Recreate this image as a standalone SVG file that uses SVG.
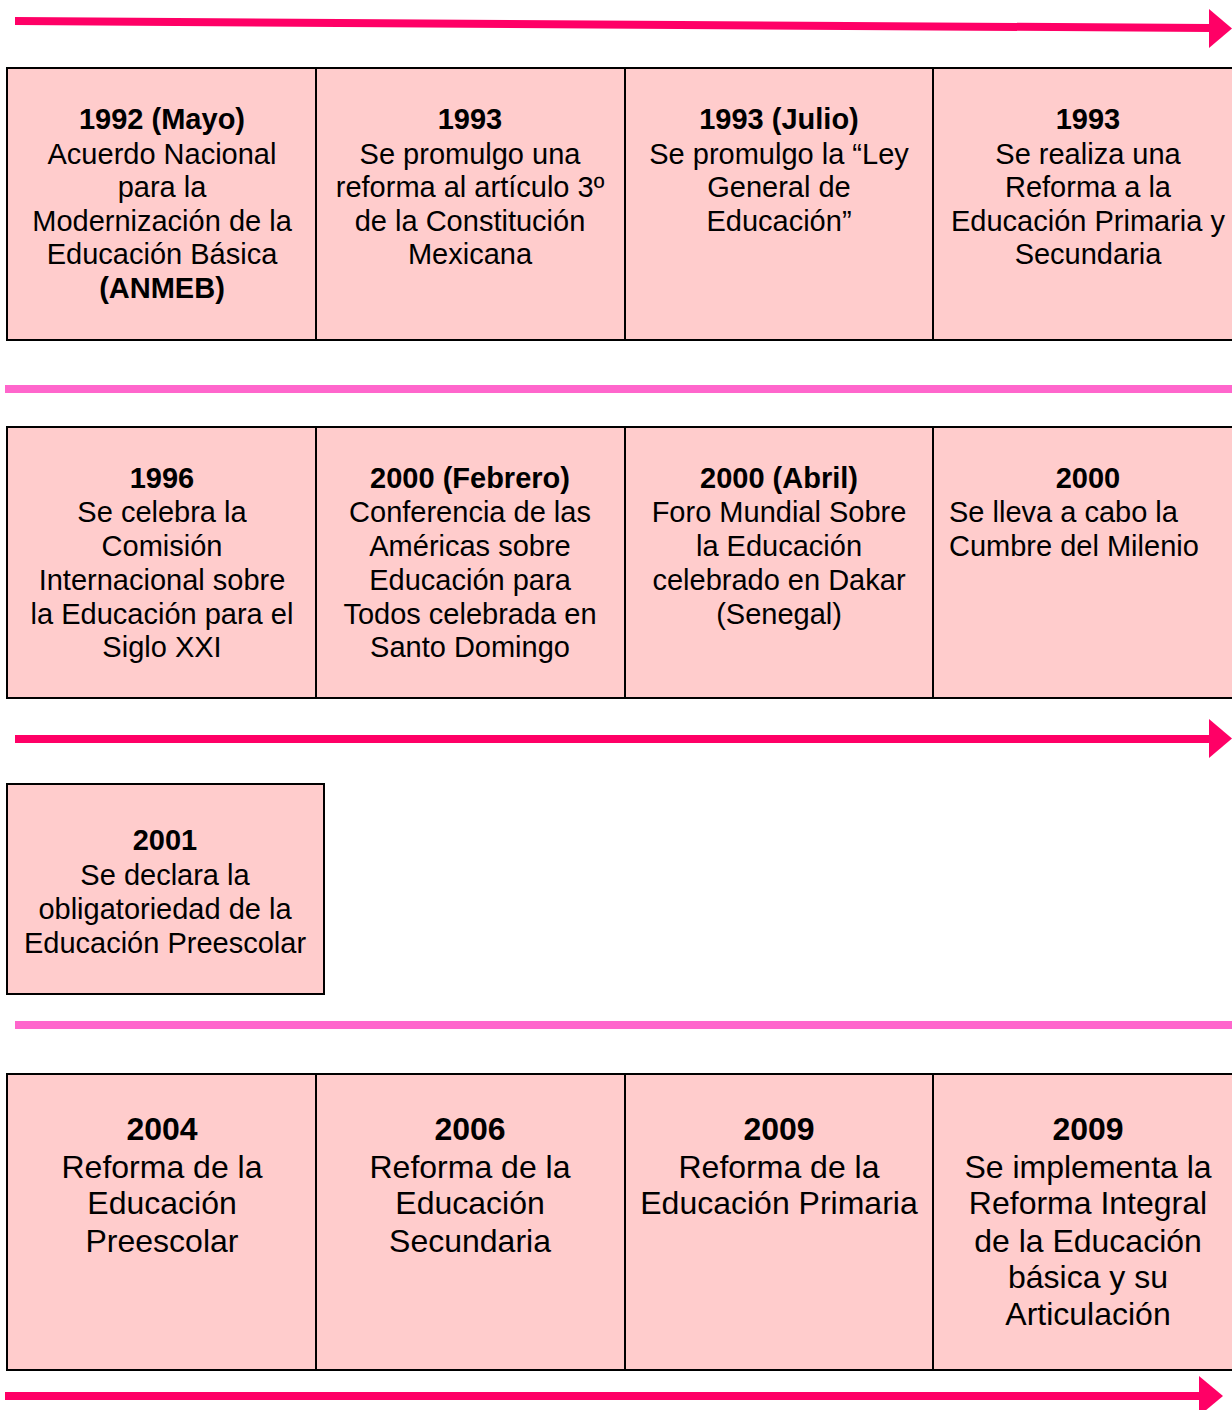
<svg xmlns="http://www.w3.org/2000/svg" width="1232" height="1410" viewBox="0 0 1232 1410">
<style>
  .box{fill:#FFCCCC;stroke:#000;stroke-width:2}
  .div{stroke:#000;stroke-width:2}
  .t{font-family:"Liberation Sans",Arial,sans-serif;font-size:29px;fill:#000;text-anchor:middle}
  .t4{font-family:"Liberation Sans",Arial,sans-serif;font-size:32px;fill:#000;text-anchor:middle}
  .b{font-weight:bold}
  .arr{stroke:#FF0066;stroke-width:8;fill:none}
  .head{fill:#FF0066}
  .sep{stroke:#FF66CC;stroke-width:8}
</style>
<rect width="1232" height="1410" fill="#fff"/>
<g id="connectors">
  <line class="arr" x1="15" y1="21" x2="1210" y2="28"/>
  <polygon class="head" points="1209,9 1232,28.5 1209,48"/>
  <line class="sep" x1="5" y1="389" x2="1232" y2="389"/>
  <line class="arr" x1="15" y1="739" x2="1210" y2="739"/>
  <polygon class="head" points="1209,719 1232,738.5 1209,758"/>
  <line class="sep" x1="15" y1="1025" x2="1232" y2="1025"/>
  <line class="arr" x1="5" y1="1396" x2="1200" y2="1396"/>
  <polygon class="head" points="1199,1376 1223,1396 1199,1416"/>
</g>
<g id="row1">
  <rect class="box" x="7" y="68" width="1240" height="272"/>
  <line class="div" x1="316" y1="68" x2="316" y2="340"/>
  <line class="div" x1="625" y1="68" x2="625" y2="340"/>
  <line class="div" x1="933" y1="68" x2="933" y2="340"/>
</g>
<g id="n1992">
  <text class="t" x="162"><tspan class="b" y="129" x="162">1992 (Mayo)</tspan><tspan x="162" y="164">Acuerdo Nacional</tspan><tspan x="162" y="197">para la</tspan><tspan x="162" y="231">Modernización de la</tspan><tspan x="162" y="264">Educación Básica</tspan><tspan class="b" x="162" y="298">(ANMEB)</tspan></text>
</g>
<g id="n1993a">
  <text class="t"><tspan class="b" x="470" y="129">1993</tspan><tspan x="470" y="164">Se promulgo una</tspan><tspan x="470" y="197">reforma al artículo 3º</tspan><tspan x="470" y="231">de la Constitución</tspan><tspan x="470" y="264">Mexicana</tspan></text>
</g>
<g id="n1993b">
  <text class="t"><tspan class="b" x="779" y="129">1993 (Julio)</tspan><tspan x="779" y="164">Se promulgo la “Ley</tspan><tspan x="779" y="197">General de</tspan><tspan x="779" y="231">Educación”</tspan></text>
</g>
<g id="n1993c">
  <text class="t"><tspan class="b" x="1088" y="129">1993</tspan><tspan x="1088" y="164">Se realiza una</tspan><tspan x="1088" y="197">Reforma a la</tspan><tspan x="1088" y="231">Educación Primaria y</tspan><tspan x="1088" y="264">Secundaria</tspan></text>
</g>
<g id="row2">
  <rect class="box" x="7" y="427" width="1240" height="271"/>
  <line class="div" x1="316" y1="427" x2="316" y2="698"/>
  <line class="div" x1="625" y1="427" x2="625" y2="698"/>
  <line class="div" x1="933" y1="427" x2="933" y2="698"/>
</g>
<g id="n1996">
  <text class="t"><tspan class="b" x="162" y="488">1996</tspan><tspan x="162" y="522">Se celebra la</tspan><tspan x="162" y="556">Comisión</tspan><tspan x="162" y="590">Internacional sobre</tspan><tspan x="162" y="624">la Educación para el</tspan><tspan x="162" y="657">Siglo XXI</tspan></text>
</g>
<g id="n2000a">
  <text class="t"><tspan class="b" x="470" y="488">2000 (Febrero)</tspan><tspan x="470" y="522">Conferencia de las</tspan><tspan x="470" y="556">Américas sobre</tspan><tspan x="470" y="590">Educación para</tspan><tspan x="470" y="624">Todos celebrada en</tspan><tspan x="470" y="657">Santo Domingo</tspan></text>
</g>
<g id="n2000b">
  <text class="t"><tspan class="b" x="779" y="488">2000 (Abril)</tspan><tspan x="779" y="522">Foro Mundial Sobre</tspan><tspan x="779" y="556">la Educación</tspan><tspan x="779" y="590">celebrado en Dakar</tspan><tspan x="779" y="624">(Senegal)</tspan></text>
</g>
<g id="n2000c">
  <text class="t"><tspan class="b" x="1088" y="488">2000</tspan></text>
  <text class="t" style="text-anchor:start"><tspan x="949" y="522">Se lleva a cabo la</tspan><tspan x="949" y="556">Cumbre del Milenio</tspan></text>
</g>
<g id="n2001">
  <rect class="box" x="7" y="784" width="317" height="210"/>
  <text class="t"><tspan class="b" x="165" y="850">2001</tspan><tspan x="165" y="885">Se declara la</tspan><tspan x="165" y="919">obligatoriedad de la</tspan><tspan x="165" y="953">Educación Preescolar</tspan></text>
</g>
<g id="row4">
  <rect class="box" x="7" y="1074" width="1240" height="296"/>
  <line class="div" x1="316" y1="1074" x2="316" y2="1370"/>
  <line class="div" x1="625" y1="1074" x2="625" y2="1370"/>
  <line class="div" x1="933" y1="1074" x2="933" y2="1370"/>
</g>
<g id="n2004">
  <text class="t4"><tspan class="b" x="162" y="1140">2004</tspan><tspan x="162" y="1178">Reforma de la</tspan><tspan x="162" y="1214">Educación</tspan><tspan x="162" y="1252">Preescolar</tspan></text>
</g>
<g id="n2006">
  <text class="t4"><tspan class="b" x="470" y="1140">2006</tspan><tspan x="470" y="1178">Reforma de la</tspan><tspan x="470" y="1214">Educación</tspan><tspan x="470" y="1252">Secundaria</tspan></text>
</g>
<g id="n2009a">
  <text class="t4"><tspan class="b" x="779" y="1140">2009</tspan><tspan x="779" y="1178">Reforma de la</tspan><tspan x="779" y="1214">Educación Primaria</tspan></text>
</g>
<g id="n2009b">
  <text class="t4"><tspan class="b" x="1088" y="1140">2009</tspan><tspan x="1088" y="1178">Se implementa la</tspan><tspan x="1088" y="1214">Reforma Integral</tspan><tspan x="1088" y="1252">de la Educación</tspan><tspan x="1088" y="1288">básica y su</tspan><tspan x="1088" y="1325">Articulación</tspan></text>
</g>
</svg>
